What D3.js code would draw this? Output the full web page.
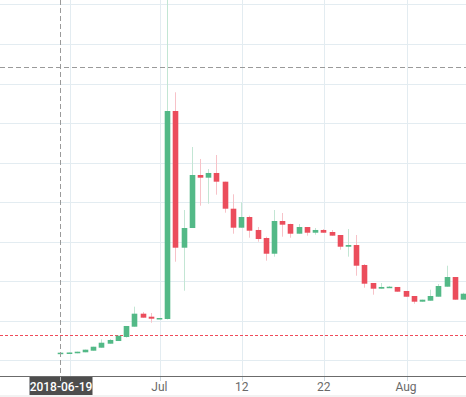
<!DOCTYPE html>
<html><head><meta charset="utf-8">
<script src="https://cdn.jsdelivr.net/npm/d3@7/dist/d3.min.js"></script>
<style>html,body{margin:0;padding:0;background:#fff;overflow:hidden}svg{display:block}</style>
</head><body>
<svg id="chart" width="466" height="397"></svg>
<script>
const dates = ["2018-06-19","2018-06-20","2018-06-21","2018-06-22","2018-06-23","2018-06-24","2018-06-25","2018-06-26","2018-06-27","2018-06-28","2018-06-29","2018-06-30",
"2018-07-01","2018-07-02","2018-07-03","2018-07-04","2018-07-06","2018-07-07","2018-07-08","2018-07-09","2018-07-10","2018-07-11","2018-07-12","2018-07-13","2018-07-14","2018-07-15","2018-07-16","2018-07-17","2018-07-18","2018-07-19","2018-07-20","2018-07-21","2018-07-22","2018-07-23","2018-07-24","2018-07-25","2018-07-26","2018-07-27","2018-07-28","2018-07-29","2018-07-30","2018-07-31",
"2018-08-01","2018-08-02","2018-08-03","2018-08-04","2018-08-05","2018-08-06","2018-08-07","2018-08-08"];
const open  = [11.62,11.80,11.80,12.05,12.45,13.21,14.22,14.90,15.92,18.52,21.81,21.05,20.54,20.47,73.05,38.49,43.47,56.87,56.19,57.38,55.18,48.35,43.55,46.25,42.97,40.94,36.97,45.24,44.48,42.03,43.72,42.28,42.97,42.46,41.70,38.74,39.17,34.12,29.57,28.13,28.38,28.56,27.55,26.28,24.84,25.09,26.10,28.63,31.08,25.35];
const high  = [11.95,12.00,12.20,12.71,13.46,15.33,15.41,16.24,18.70,23.58,22.24,21.98,20.72,116.28,77.78,48.02,63.95,60.92,58.39,61.93,55.18,51.99,49.97,46.58,43.72,41.27,48.02,47.26,44.56,44.48,43.72,43.47,43.22,42.97,41.70,43.22,41.70,34.37,29.57,29.57,28.81,28.56,27.55,26.28,25.35,27.87,29.31,33.94,31.08,27.12];
const low   = [11.62,11.80,11.80,12.05,12.45,13.21,14.22,14.90,15.74,18.52,20.80,19.53,20.54,20.34,34.95,27.62,43.47,49.11,49.62,51.89,47.34,42.03,43.55,41.02,40.01,35.21,36.22,41.27,41.02,42.03,41.53,41.78,42.28,41.53,37.99,36.22,31.41,28.38,26.61,28.13,28.38,27.37,26.10,24.33,24.84,25.09,26.10,28.63,25.35,25.35];
const close = [11.95,12.00,12.20,12.71,13.46,14.47,15.16,16.24,18.70,21.81,20.80,20.54,20.72,73.05,38.49,43.47,56.87,56.19,57.38,55.18,48.35,43.55,46.25,42.79,40.69,36.97,45.24,44.31,42.03,43.72,42.28,42.97,42.28,41.53,38.74,39.17,33.94,29.39,28.13,28.56,28.63,27.37,26.10,24.84,25.35,26.28,28.81,31.08,25.35,26.86];
const priceTicks = [10,20,30,40,50,60,70,80,90,100];
const timeTickDates = ["2018-06-20","2018-07-01","2018-07-12","2018-07-22","2018-08-01"];
const crosshairIndex = 0;
const crosshairPrice = 84.17;
const priceLineValue = 16.42;

function tickLabel(d){
  const dt = d3.timeParse("%Y-%m-%d")(d);
  return dt.getDate() === 1 ? d3.timeFormat("%b")(dt) : String(dt.getDate());
}

const W = 466, H = 397, plotB = 376;
const svg = d3.select("#chart");
const x = d3.scaleLinear().domain([0, dates.length - 1]).range([60.3, 463.1]);
const y = d3.scaleLinear().domain([10, 100]).range([360.4, 4.4]);

svg.append("defs").append("clipPath").attr("id","clip")
  .append("rect").attr("x",0).attr("y",0).attr("width",W).attr("height",plotB);

const plot = svg.append("g").attr("clip-path","url(#clip)");
const gridColor = "#e3ecf1";

plot.append("g").selectAll("line").data(priceTicks).join("line")
  .attr("x1",0).attr("x2",W)
  .attr("y1",d=>Math.round(y(d))+0.5).attr("y2",d=>Math.round(y(d))+0.5)
  .attr("stroke",gridColor).attr("stroke-width",1);

const tickIdx = timeTickDates.map(d => dates.indexOf(d));
plot.append("g").selectAll("line").data(tickIdx).join("line")
  .attr("x1",i=>Math.round(x(i)+1)+0.5).attr("x2",i=>Math.round(x(i)+1)+0.5)
  .attr("y1",0).attr("y2",plotB)
  .attr("stroke",gridColor).attr("stroke-width",1);

const up = "#53b987", down = "#eb4d5c";
const upWick = "#c3e6d4", downWick = "#f7c2c8";
const idx = d3.range(dates.length);
const bw = 5.6;

plot.append("line").attr("x1",0).attr("x2",W)
  .attr("y1",Math.round(y(priceLineValue))+0.5).attr("y2",Math.round(y(priceLineValue))+0.5)
  .attr("stroke","#ef4b5a").attr("stroke-width",1).attr("stroke-dasharray","3,2");

plot.append("g").selectAll("line").data(idx).join("line")
  .attr("x1",i=>Math.round(x(i))+0.5).attr("x2",i=>Math.round(x(i))+0.5)
  .attr("y1",i=>y(high[i])).attr("y2",i=>y(low[i]))
  .attr("stroke",i=>close[i]>=open[i]?upWick:downWick).attr("stroke-width",1);

plot.append("g").selectAll("rect").data(idx).join("rect")
  .attr("x",i=>Math.round(x(i))+0.5-bw/2).attr("width",bw)
  .attr("y",i=>y(Math.max(open[i],close[i])))
  .attr("height",i=>Math.max(1.5, Math.abs(y(open[i])-y(close[i]))))
  .attr("fill",i=>close[i]>=open[i]?up:down);

const chX = Math.round(x(crosshairIndex))+0.5;
const chY = Math.round(y(crosshairPrice))+0.5;
const chColor = "#9a9a9a";
plot.append("line").attr("x1",0).attr("x2",W).attr("y1",chY).attr("y2",chY)
  .attr("stroke",chColor).attr("stroke-dasharray","5,3");
plot.append("line").attr("x1",chX).attr("x2",chX).attr("y1",0).attr("y2",plotB)
  .attr("stroke",chColor).attr("stroke-dasharray","5,3");

const axisG = svg.append("g");
axisG.append("line").attr("x1",0).attr("x2",W).attr("y1",plotB+0.5).attr("y2",plotB+0.5)
  .attr("stroke","#6b6b6b").attr("stroke-width",1);
axisG.selectAll("line.t").data(tickIdx).join("line").attr("class","t")
  .attr("x1",i=>Math.round(x(i)+1)+0.5).attr("x2",i=>Math.round(x(i)+1)+0.5)
  .attr("y1",plotB+1).attr("y2",plotB+5).attr("stroke","#c9d6de");
// the tick under the crosshair label is covered by it, so only the visible ones get text
const labelIdx = tickIdx.filter(i => Math.abs(x(i) - x(crosshairIndex)) > 40);
axisG.selectAll("text").data(labelIdx).join("text")
  .attr("x",i=>x(i)+0.5).attr("y",391)
  .attr("text-anchor","middle").attr("font-family","Roboto, 'Liberation Sans', sans-serif")
  .attr("font-size",12).attr("fill","#6a6a6a")
  .text(i=>tickLabel(dates[i]));

const lbl = svg.append("g");
lbl.append("rect").attr("x",chX-31).attr("y",plotB+1).attr("width",63).attr("height",18).attr("fill","#4d4d4d");
lbl.append("line").attr("x1",chX).attr("x2",chX).attr("y1",plotB+1).attr("y2",plotB+5).attr("stroke","#bfbfbf");
lbl.append("text").attr("x",chX+0.5).attr("y",391).attr("text-anchor","middle")
  .attr("font-family","Roboto, 'Liberation Sans', sans-serif").attr("font-size",12).attr("font-weight","500")
  .attr("fill","#ffffff").text(dates[crosshairIndex]);
svg.append("rect").attr("x",0).attr("y",395).attr("width",W).attr("height",2).attr("fill","#f2f2f2");
</script>
</body></html>
